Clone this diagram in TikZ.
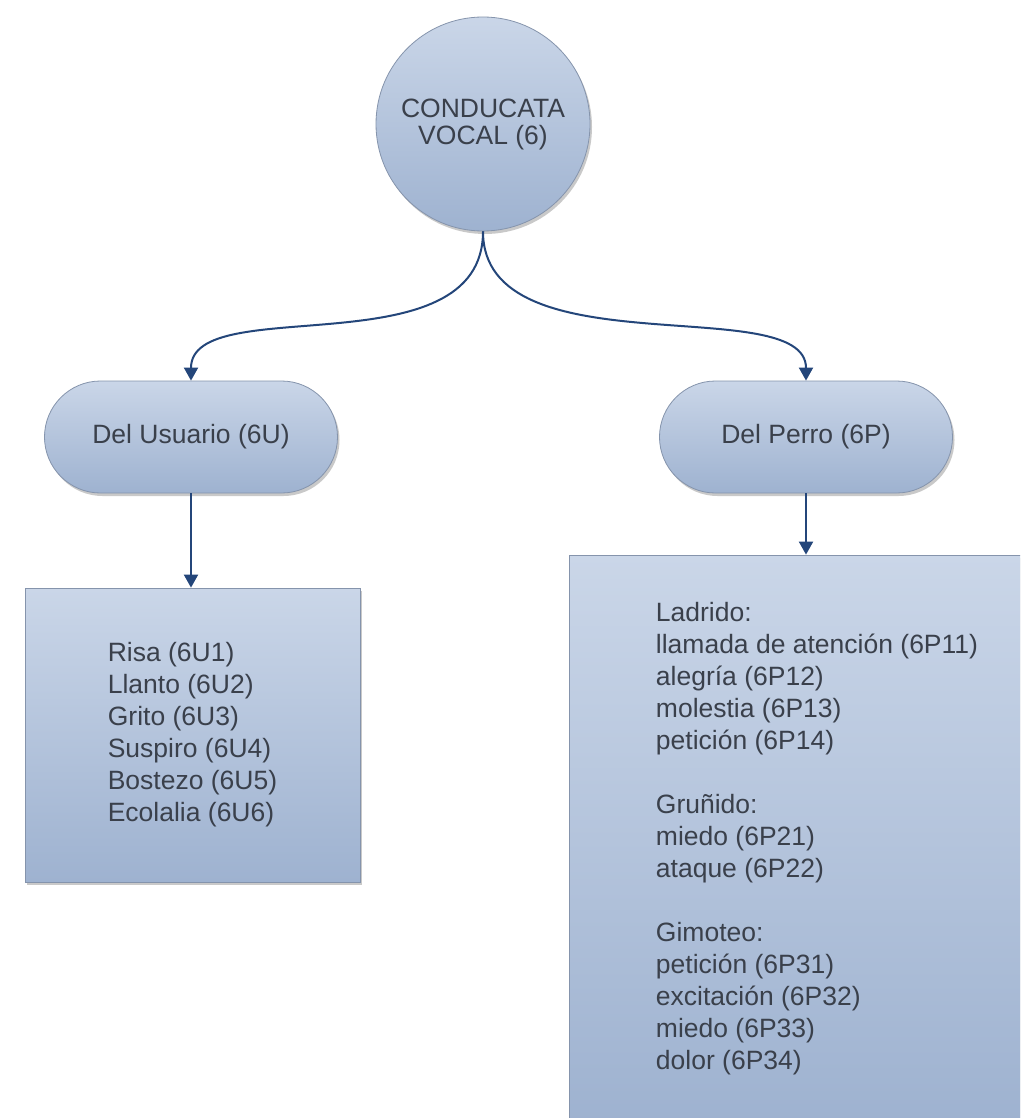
\documentclass[tikz,border=0pt]{standalone}
\usepackage{fontspec}
\setmainfont{Liberation Sans}
\usetikzlibrary{arrows.meta,shadows,shapes.misc}

\definecolor{fillTop}{HTML}{CAD6E8}
\definecolor{fillBot}{HTML}{9EB2D0}
\definecolor{edgeGray}{HTML}{8594AC}
\definecolor{ink}{HTML}{3A404B}
\definecolor{wire}{HTML}{24467A}

\tikzset{
  softshadow/.style={drop shadow={shadow xshift=2pt, shadow yshift=-3pt, opacity=0.35, fill=black!60}},
  blockfill/.style={top color=fillTop, bottom color=fillBot, draw=edgeGray, line width=0.8pt, text=ink},
  bubble/.style={circle, blockfill, softshadow, minimum size=214pt, inner sep=0pt, align=center,
    font=\fontsize{26.5}{27}\selectfont},
  pill/.style={rounded rectangle, blockfill, softshadow, minimum width=293pt, minimum height=112pt,
    inner sep=0pt, font=\fontsize{26.5}{32}\selectfont},
  listbox/.style={rectangle, blockfill, softshadow, inner sep=0pt, align=left,
    font=\fontsize{26.5}{32}\selectfont},
  conn/.style={draw=wire, line width=2pt, -{Triangle[width=14pt,length=13pt]}},
}

\begin{document}
\begin{tikzpicture}[x=1pt,y=-1pt]
  \clip (0,0) rectangle (1020,1118);
  \fill[white] (0,0) rectangle (1020,1118);

  % top concept
  \node[bubble] (root) at (483,124) {CONDUCATA\\VOCAL (6)};

  % the two branches
  \node[pill] (usr) at (191,437) {Del Usuario (6U)};
  \node[pill] (dog) at (806,437) {Del Perro (6P)};

  % detail lists
  \node[listbox, minimum width=335pt, minimum height=294pt] (usrlist) at (192.5,735)
    {Risa (6U1)\\Llanto (6U2)\\Grito (6U3)\\Suspiro (6U4)\\Bostezo (6U5)\\Ecolalia (6U6)};

  \node[listbox, minimum width=496pt, minimum height=568pt] (doglist) at (817,839)
    {Ladrido:\\llamada de atención (6P11)\\alegría (6P12)\\molestia (6P13)\\petición (6P14)\\[32pt]
     Gruñido:\\miedo (6P21)\\ataque (6P22)\\[32pt]
     Gimoteo:\\petición (6P31)\\excitación (6P32)\\miedo (6P33)\\dolor (6P34)};

  % connectors
  \draw[conn] (root.south) .. controls +(0,140) and +(0,-90) .. (usr.north);
  \draw[conn] (root.south) .. controls +(0,140) and +(0,-90) .. (dog.north);
  \draw[conn] (usr.south) -- (usr.south |- usrlist.north);
  \draw[conn] (dog.south) -- (dog.south |- doglist.north);
\end{tikzpicture}
\end{document}
